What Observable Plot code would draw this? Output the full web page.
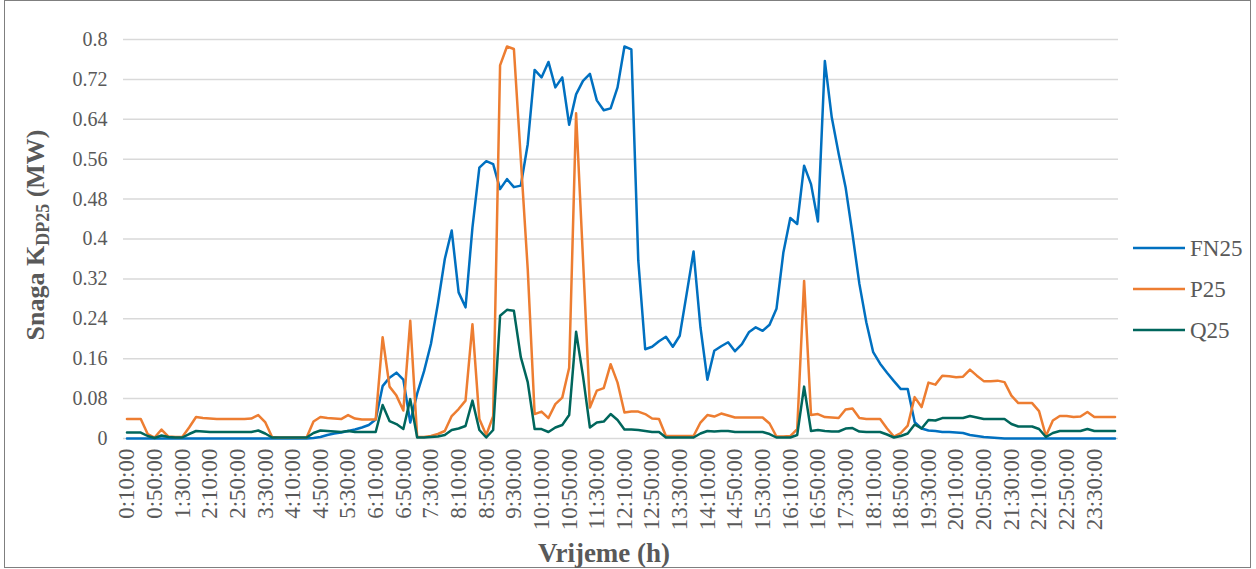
<!DOCTYPE html>
<html><head><meta charset="utf-8">
<script src="https://cdn.jsdelivr.net/npm/d3@7"></script>
<script src="https://cdn.jsdelivr.net/npm/@observablehq/plot@0.6"></script>
<style>
body{margin:0;background:#fff;}
#wrap{position:relative;width:1256px;height:569px;}
#wrap svg, #wrap svg text, #wrap svg tspan{font-family:"Liberation Serif","DejaVu Serif",serif !important;}
</style></head><body><div id="wrap"></div>
<script>
const times = [
"0:10:00","0:20:00","0:30:00","0:40:00","0:50:00",
"1:00:00","1:10:00","1:20:00","1:30:00","1:40:00","1:50:00",
"2:00:00","2:10:00","2:20:00","2:30:00","2:40:00","2:50:00",
"3:00:00","3:10:00","3:20:00","3:30:00","3:40:00","3:50:00",
"4:00:00","4:10:00","4:20:00","4:30:00","4:40:00","4:50:00",
"5:00:00","5:10:00","5:20:00","5:30:00","5:40:00","5:50:00",
"6:00:00","6:10:00","6:20:00","6:30:00","6:40:00","6:50:00",
"7:00:00","7:10:00","7:20:00","7:30:00","7:40:00","7:50:00",
"8:00:00","8:10:00","8:20:00","8:30:00","8:40:00","8:50:00",
"9:00:00","9:10:00","9:20:00","9:30:00","9:40:00","9:50:00",
"10:00:00","10:10:00","10:20:00","10:30:00","10:40:00","10:50:00",
"11:00:00","11:10:00","11:20:00","11:30:00","11:40:00","11:50:00",
"12:00:00","12:10:00","12:20:00","12:30:00","12:40:00","12:50:00",
"13:00:00","13:10:00","13:20:00","13:30:00","13:40:00","13:50:00",
"14:00:00","14:10:00","14:20:00","14:30:00","14:40:00","14:50:00",
"15:00:00","15:10:00","15:20:00","15:30:00","15:40:00","15:50:00",
"16:00:00","16:10:00","16:20:00","16:30:00","16:40:00","16:50:00",
"17:00:00","17:10:00","17:20:00","17:30:00","17:40:00","17:50:00",
"18:00:00","18:10:00","18:20:00","18:30:00","18:40:00","18:50:00",
"19:00:00","19:10:00","19:20:00","19:30:00","19:40:00","19:50:00",
"20:00:00","20:10:00","20:20:00","20:30:00","20:40:00","20:50:00",
"21:00:00","21:10:00","21:20:00","21:30:00","21:40:00","21:50:00",
"22:00:00","22:10:00","22:20:00","22:30:00","22:40:00","22:50:00",
"23:00:00","23:10:00","23:20:00","23:30:00","23:40:00","23:50:00",
"0:00:00"
];

const tickLabels = ["0:10:00","0:50:00","1:30:00","2:10:00","2:50:00","3:30:00","4:10:00","4:50:00","5:30:00",
"6:10:00","6:50:00","7:30:00","8:10:00","8:50:00","9:30:00","10:10:00","10:50:00","11:30:00","12:10:00",
"12:50:00","13:30:00","14:10:00","14:50:00","15:30:00","16:10:00","16:50:00","17:30:00","18:10:00",
"18:50:00","19:30:00","20:10:00","20:50:00","21:30:00","22:10:00","22:50:00","23:30:00"];

const yTicks = [0,0.08,0.16,0.24,0.32,0.4,0.48,0.56,0.64,0.72,0.8];

const seriesNames = ["FN25","P25","Q25"];
const seriesColors = ["#0070C0","#ED7D31","#00665C"];

const fn25 = [
0,0,0,0,0,0,0,0,0,0,0,0,
0,0,0,0,0,0,0,0,0,0,0,0,
0,0,0,0.001,0.003,0.007,0.010,0.012,0.015,0.018,0.022,0.027,
0.038,0.105,0.122,0.132,0.118,0.032,0.090,0.135,0.190,0.270,0.360,0.417,
0.293,0.263,0.423,0.543,0.556,0.550,0.500,0.520,0.504,0.507,0.590,0.739,
0.724,0.755,0.704,0.724,0.629,0.690,0.717,0.731,0.678,0.658,0.662,0.704,
0.786,0.780,0.357,0.179,0.184,0.195,0.204,0.184,0.206,0.290,0.375,0.223,
0.118,0.176,0.185,0.193,0.175,0.189,0.213,0.223,0.216,0.228,0.260,0.373,
0.442,0.430,0.547,0.510,0.435,0.757,0.644,0.571,0.504,0.410,0.310,0.233,
0.173,0.150,0.132,0.115,0.099,0.099,0.033,0.020,0.016,0.015,0.013,0.013,
0.012,0.011,0.007,0.005,0.003,0.002,0.001,0,0,0,0,0,
0,0,0,0,0,0,0,0,0,0,0,0
];

const p25 = [
0.039,0.039,0.039,0.009,0.002,0.018,0.004,0.003,0.003,0.022,0.043,0.041,
0.040,0.039,0.039,0.039,0.039,0.039,0.040,0.047,0.033,0.003,0.002,0.002,
0.002,0.002,0.002,0.034,0.043,0.041,0.040,0.039,0.047,0.040,0.038,0.038,
0.038,0.203,0.104,0.086,0.056,0.236,0.003,0.003,0.005,0.009,0.015,0.045,
0.059,0.076,0.229,0.039,0.007,0.045,0.748,0.786,0.781,0.560,0.340,0.049,
0.054,0.041,0.069,0.082,0.142,0.652,0.360,0.062,0.096,0.101,0.149,0.112,
0.052,0.054,0.054,0.049,0.040,0.039,0.005,0.005,0.005,0.005,0.005,0.032,
0.047,0.044,0.050,0.046,0.042,0.042,0.042,0.042,0.042,0.030,0.004,0.004,
0.005,0.019,0.316,0.047,0.049,0.043,0.042,0.041,0.058,0.060,0.041,0.039,
0.039,0.039,0.020,0.004,0.011,0.026,0.083,0.063,0.112,0.108,0.126,0.125,
0.123,0.124,0.138,0.126,0.115,0.115,0.116,0.113,0.086,0.071,0.071,0.071,
0.055,0.005,0.036,0.045,0.045,0.043,0.044,0.053,0.043,0.043,0.043,0.043
];

const q25 = [
0.012,0.012,0.012,0.005,0.001,0.006,0.003,0.002,0.002,0.009,0.015,0.014,
0.013,0.013,0.013,0.013,0.013,0.013,0.013,0.016,0.010,0.002,0.002,0.002,
0.002,0.002,0.002,0.011,0.016,0.015,0.014,0.013,0.015,0.013,0.013,0.013,
0.013,0.067,0.035,0.029,0.019,0.079,0.002,0.002,0.003,0.004,0.007,0.017,
0.020,0.025,0.076,0.017,0.002,0.017,0.246,0.258,0.256,0.163,0.113,0.019,
0.019,0.013,0.022,0.027,0.047,0.214,0.125,0.022,0.032,0.034,0.049,0.037,
0.018,0.018,0.017,0.015,0.013,0.013,0.002,0.002,0.002,0.002,0.002,0.010,
0.015,0.014,0.015,0.015,0.013,0.013,0.013,0.013,0.013,0.009,0.002,0.002,
0.002,0.007,0.104,0.015,0.017,0.015,0.014,0.014,0.020,0.021,0.014,0.013,
0.013,0.013,0.008,0.002,0.005,0.010,0.028,0.020,0.037,0.036,0.041,0.041,
0.041,0.041,0.045,0.042,0.039,0.039,0.039,0.039,0.029,0.024,0.024,0.024,
0.019,0.003,0.011,0.015,0.015,0.015,0.015,0.019,0.015,0.015,0.015,0.015
];

const seriesValues = [fn25, p25, q25];
const rows = [];
seriesNames.forEach((name, k) => {
  seriesValues[k].forEach((v, i) => rows.push({time: times[i], value: v, series: name}));
});

const W = 1256, H = 569;
const chart = Plot.plot({
  width: W, height: H,
  marginLeft: 123, marginRight: 138, marginTop: 39, marginBottom: 131,
  style: "font-size: 18px; color: #595959; background: white; overflow: visible;",
  x: {type: "point", domain: times, padding: 0.5},
  y: {domain: [0, 0.8]},
  color: {domain: seriesNames, range: seriesColors},
  marks: [
    Plot.gridY(yTicks, {stroke: "#d9d9d9", strokeOpacity: 1, strokeWidth: 1.5}),
    Plot.axisY(yTicks, {tickSize: 0, tickPadding: 16, label: null, tickFormat: d => String(d), fontSize: 20, fill: "#595959"}),
    Plot.axisX(tickLabels, {tickSize: 0, tickPadding: 10, tickRotate: -90, label: null, fontSize: 23, fill: "#595959"}),
    Plot.line(rows, {x: "time", y: "value", z: "series", stroke: "series", strokeWidth: 2.5, strokeLinejoin: "round", strokeLinecap: "round"})
  ]
});
document.getElementById("wrap").appendChild(chart);

const svg = d3.select(chart);
// outer frame
svg.append("rect").attr("x", 4.5).attr("y", 0.5).attr("width", 1246).attr("height", 567)
  .attr("fill", "none").attr("stroke", "#7f7f7f").attr("stroke-width", 1);

// y axis title
const yt = svg.append("text")
  .attr("transform", "translate(44,235) rotate(-90)")
  .attr("text-anchor", "middle")
  .attr("font-weight", "bold").attr("font-size", 26).attr("fill", "#595959");
yt.append("tspan").text("Snaga K");
yt.append("tspan").attr("font-size", 18).attr("dy", 5).text("DP25");
yt.append("tspan").attr("dy", -5).text(" (MW)");

// x axis title
svg.append("text").attr("x", 604).attr("y", 562).attr("text-anchor", "middle")
  .attr("font-weight", "bold").attr("font-size", 27).attr("fill", "#595959")
  .text("Vrijeme (h)");

// legend
const legY = [248, 289, 330];
seriesNames.forEach((name, k) => {
  svg.append("line").attr("x1", 1133).attr("x2", 1185).attr("y1", legY[k]).attr("y2", legY[k])
    .attr("stroke", seriesColors[k]).attr("stroke-width", 2.5);
  svg.append("text").attr("x", 1190).attr("y", legY[k]).attr("dy", "0.35em")
    .attr("text-anchor", "start")
    .attr("font-size", 23).attr("fill", "#595959")
    .text(name);
});
</script>
</body></html>
